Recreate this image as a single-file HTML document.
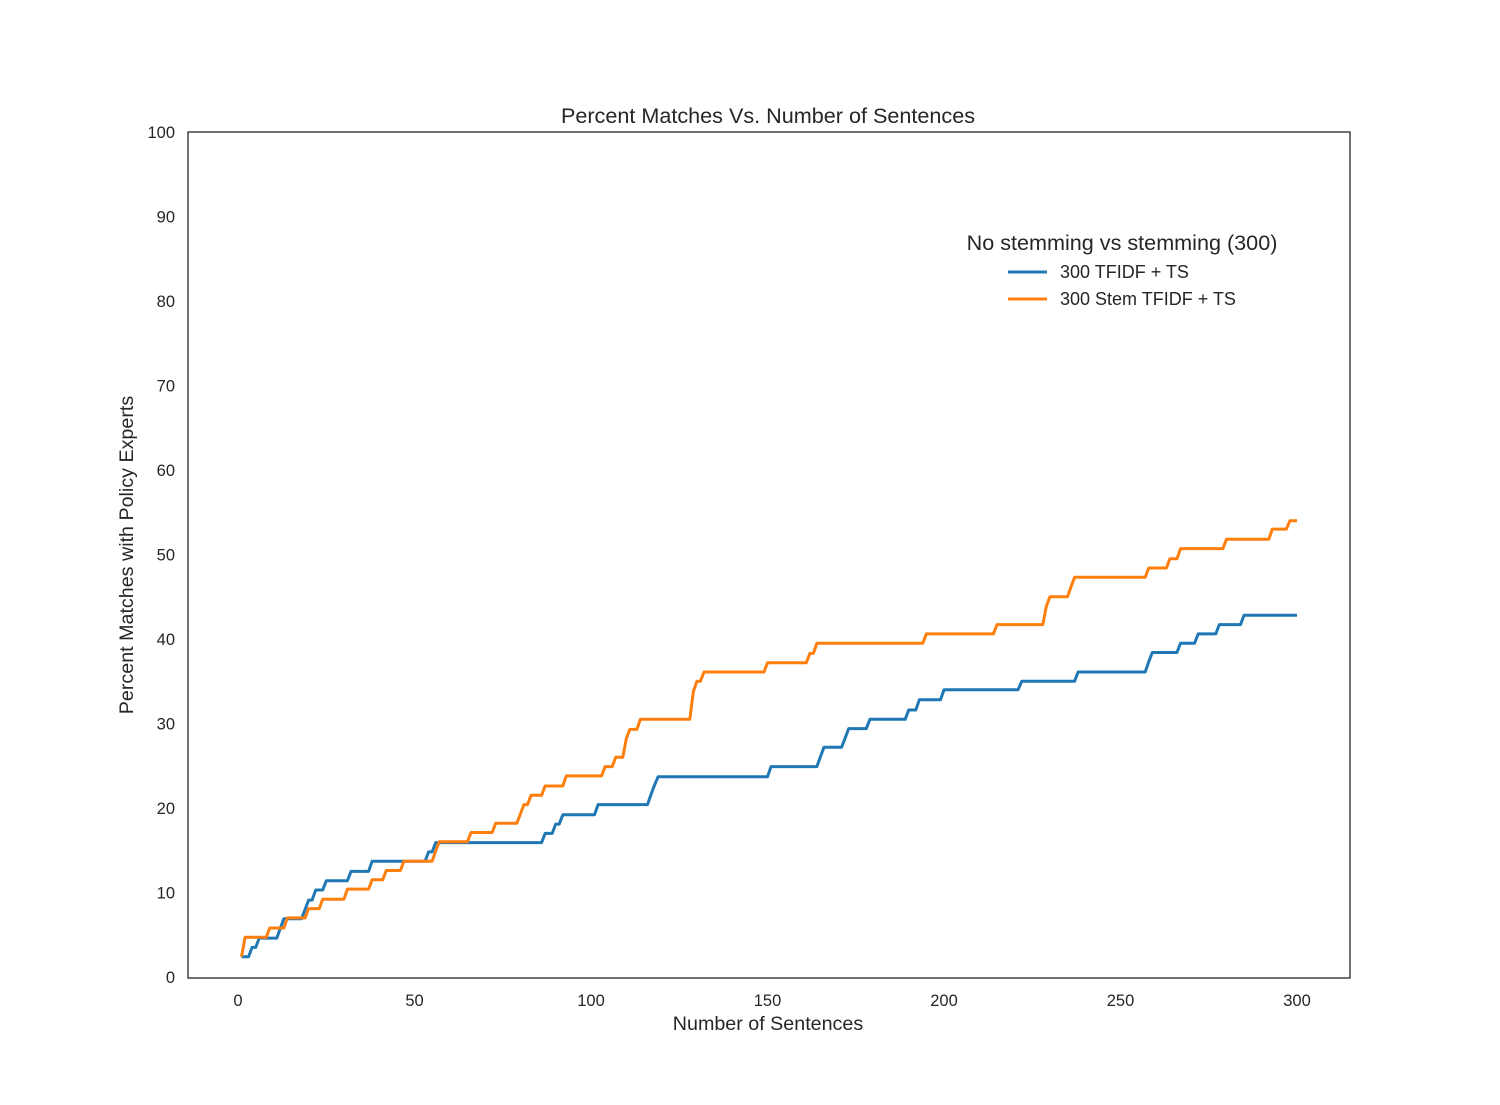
<!DOCTYPE html>
<html><head><meta charset="utf-8"><style>
body{margin:0;background:#fff;}
svg text{font-family:"Liberation Sans",Arial,sans-serif;fill:#262626;}
</style></head><body>
<svg id="chart" width="1500" height="1100">
<rect x="0" y="0" width="1500" height="1100" fill="#fff"/>
<g id="ticks"></g>
<g id="lines"></g>
<rect x="188" y="132" width="1162" height="846" fill="none" stroke="#262626" stroke-width="1.3"/>
<text x="768" y="123" font-size="21.6" text-anchor="middle">Percent Matches Vs. Number of Sentences</text>
<text x="768" y="1030" font-size="19.7" text-anchor="middle">Number of Sentences</text>
<text x="133" y="555" font-size="19.7" text-anchor="middle" transform="rotate(-90 133 555)">Percent Matches with Policy Experts</text>
<g>
<text x="1122" y="250" font-size="21.6" text-anchor="middle">No stemming vs stemming (300)</text>
<line x1="1008" y1="272" x2="1047" y2="272" stroke="#1f77b4" stroke-width="3"/>
<text x="1060" y="278" font-size="18">300 TFIDF + TS</text>
<line x1="1008" y1="299" x2="1047" y2="299" stroke="#ff7f0e" stroke-width="3"/>
<text x="1060" y="305" font-size="18">300 Stem TFIDF + TS</text>
</g>
</svg>
<script>
const xTicks=[0,50,100,150,200,250,300];
const yTicks=[0,10,20,30,40,50,60,70,80,90,100];
const blueX=[1,4,6,12,13,19,20,22,25,32,38,54,56,87,90,92,102,117,118,119,151,165,166,172,173,179,190,193,200,222,238,258,259,267,272,278,285];
const blueV=[2.4,3.5,4.6,5.8,6.9,8.0,9.1,10.3,11.4,12.5,13.7,14.8,15.9,17.0,18.1,19.2,20.4,21.6,22.7,23.7,24.9,26.1,27.2,28.3,29.4,30.5,31.6,32.8,34.0,35.0,36.1,37.3,38.4,39.5,40.6,41.7,42.8];
const orangeX=[1,2,9,14,20,24,31,38,42,47,56,57,66,73,80,81,83,87,93,104,107,110,111,114,129,130,132,150,162,164,195,215,229,230,231,236,237,258,264,267,280,293,298];
const orangeV=[2.4,4.7,5.8,7.0,8.1,9.2,10.4,11.5,12.6,13.7,14.9,16.0,17.1,18.2,19.3,20.4,21.5,22.6,23.8,24.9,26.0,28.2,29.3,30.5,33.8,35.0,36.1,37.2,38.3,39.5,40.6,41.7,43.9,45.0,45.0,46.2,47.3,48.4,49.5,50.7,51.8,53.0,54.0];
const xs=v=>238+(1297-238)*v/300;
const ys=v=>977-(977-132)*v/100;
const NS='http://www.w3.org/2000/svg';
const tg=document.getElementById('ticks');
xTicks.forEach(t=>{const e=document.createElementNS(NS,'text');
e.setAttribute('x',xs(t));e.setAttribute('y',1006);e.setAttribute('font-size','16.5');e.setAttribute('text-anchor','middle');


e.textContent=t;tg.appendChild(e);});
yTicks.forEach(t=>{const e=document.createElementNS(NS,'text');
e.setAttribute('x',175);e.setAttribute('y',ys(t)+6);e.setAttribute('font-size','16.5');e.setAttribute('text-anchor','end');


e.textContent=t;tg.appendChild(e);});
function series(X,V,end){const pts=[];let idx=0,cur=V[0];
for(let x=X[0];x<=end;x++){while(idx<X.length&&X[idx]<=x){cur=V[idx];idx++;}pts.push(xs(x).toFixed(1)+','+ys(cur).toFixed(1));}
return pts.join(' ');}
const lg=document.getElementById('lines');
[[blueX,blueV,'#1f77b4','line-tfidf'],[orangeX,orangeV,'#ff7f0e','line-stem-tfidf']].forEach(s=>{
const p=document.createElementNS(NS,'polyline');
p.setAttribute('points',series(s[0],s[1],300));p.setAttribute('fill','none');p.setAttribute('stroke',s[2]);p.setAttribute('stroke-width','3');p.setAttribute('stroke-linejoin','round');


lg.appendChild(p);});
</script>
</body></html>
